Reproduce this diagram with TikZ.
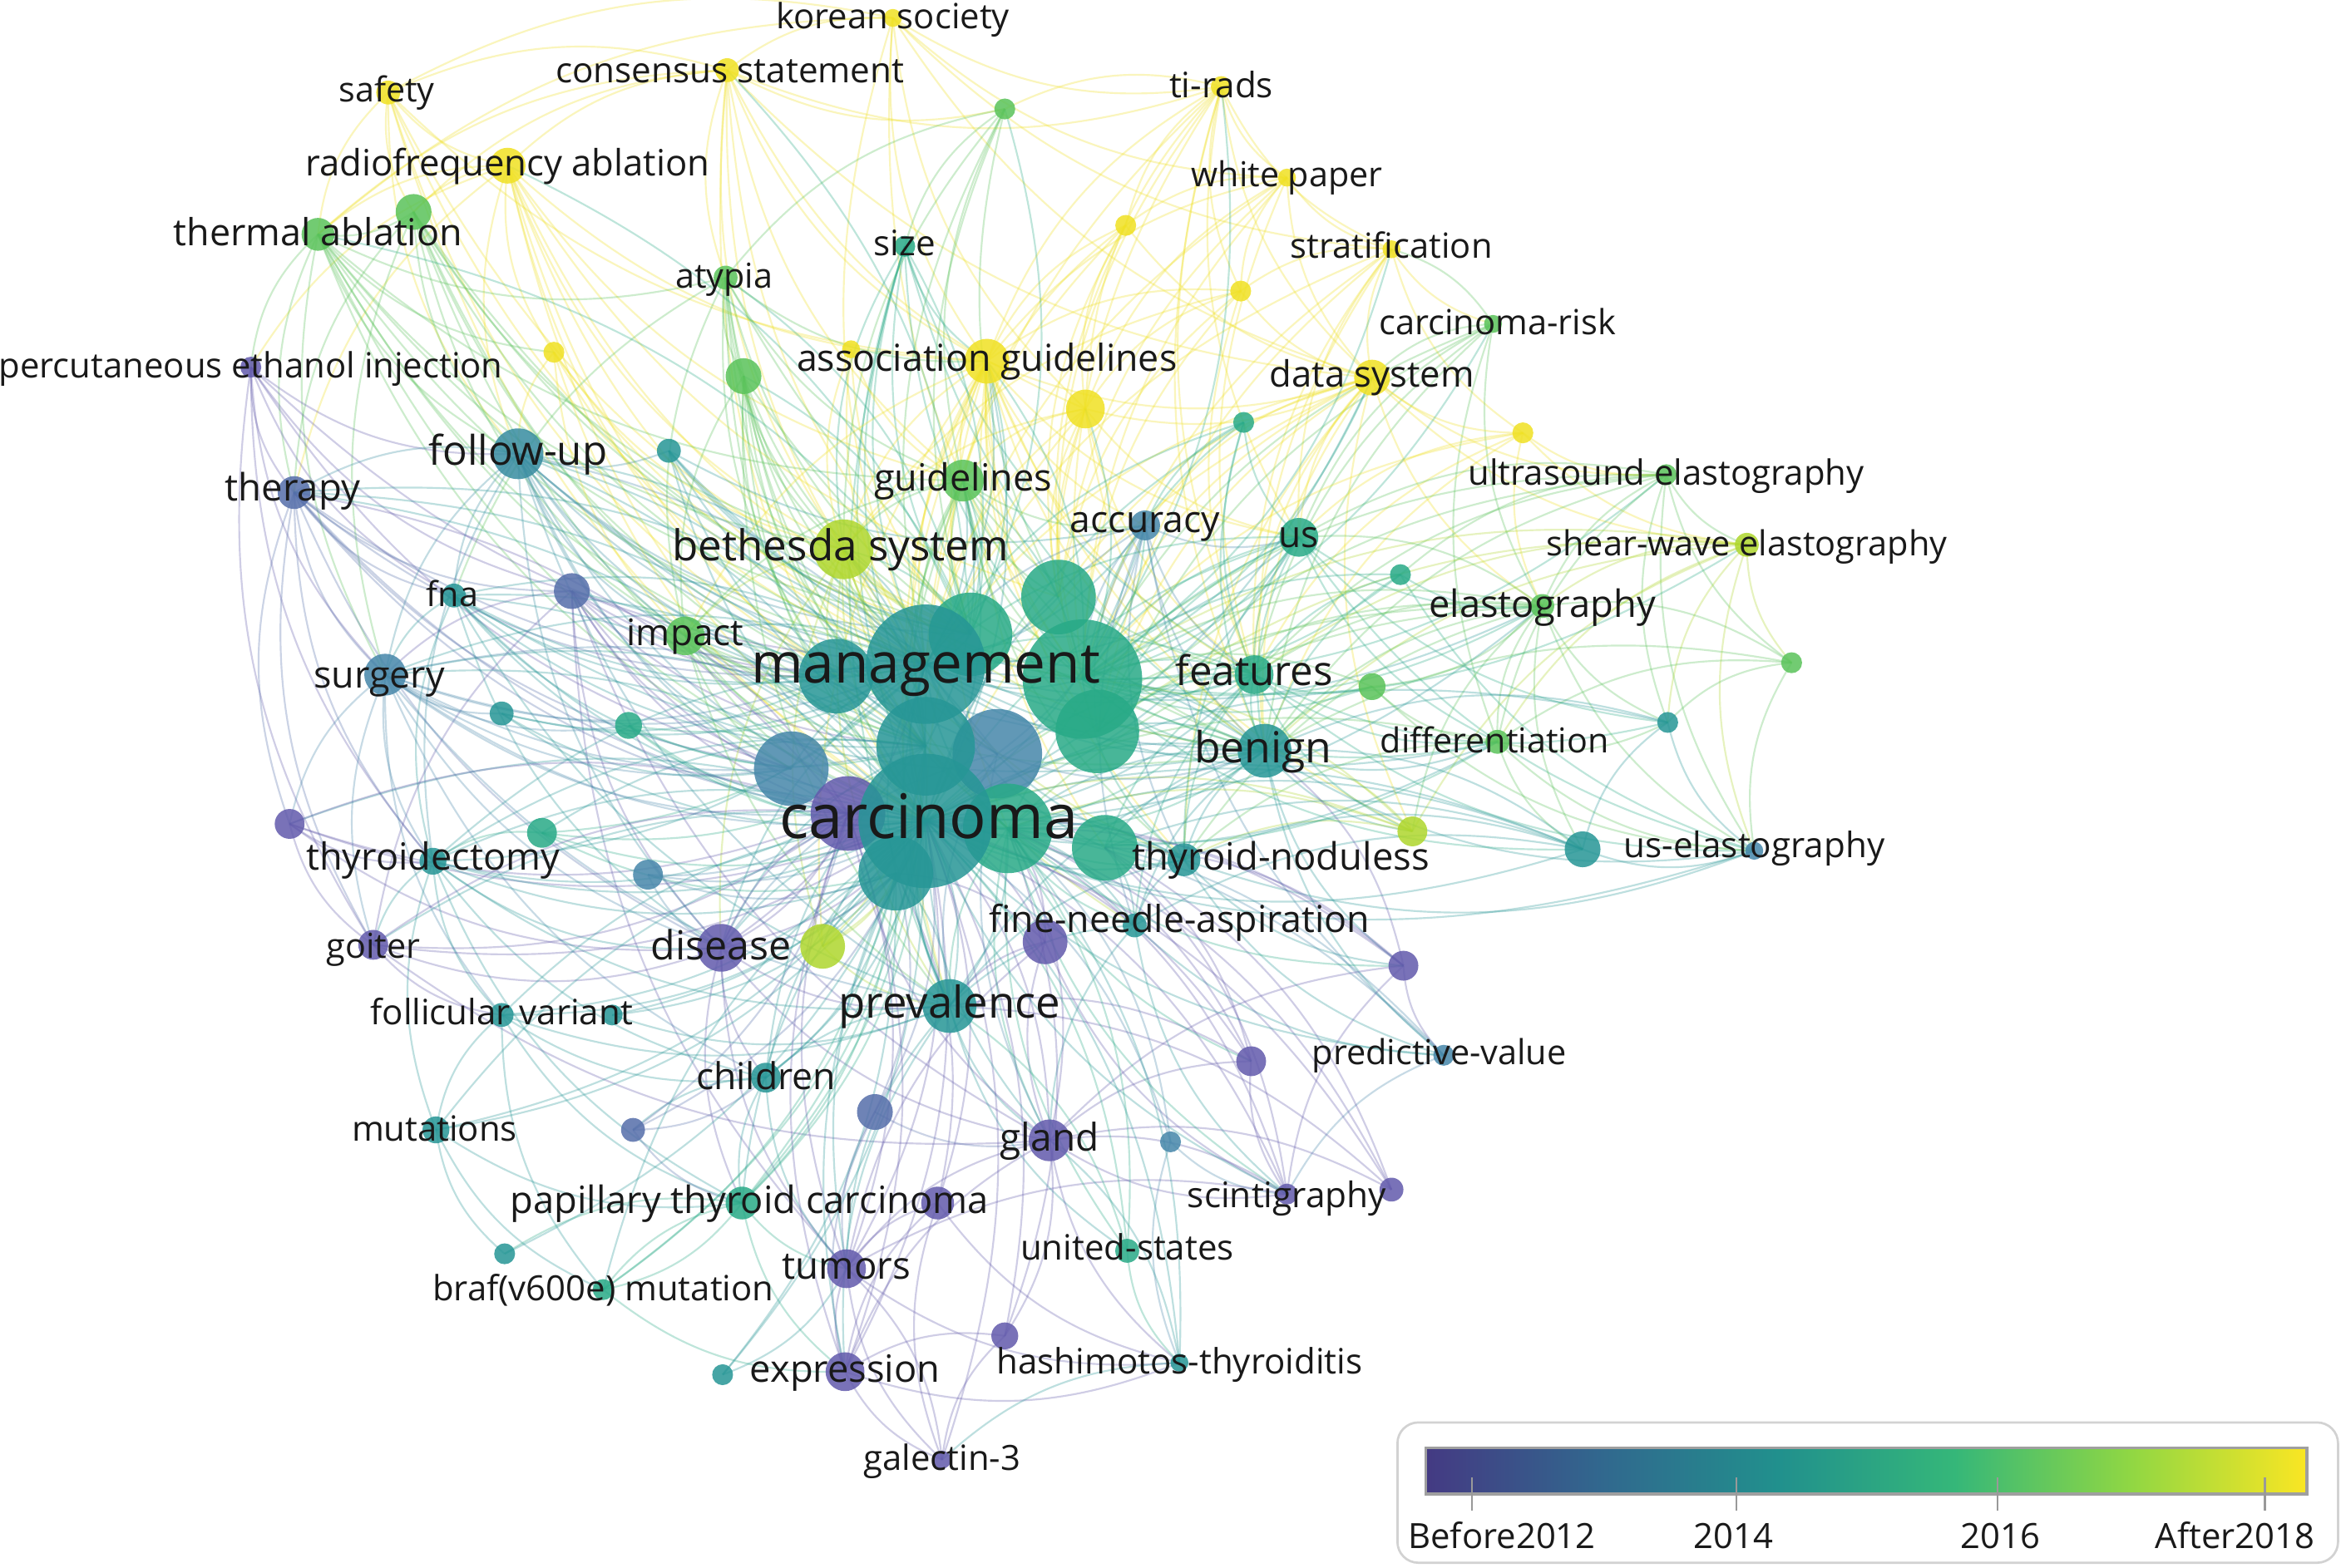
\documentclass[tikz,border=0pt]{standalone}
\usepackage{fontspec}
\setmainfont{Open Sans}
\usetikzlibrary{shapes.geometric}
\pgfdeclarelayer{bg}\pgfdeclarelayer{fg}\pgfsetlayers{bg,main,fg}
\definecolor{pu}{RGB}{98,90,172}
\definecolor{pb}{RGB}{85,110,170}
\definecolor{bl}{RGB}{70,135,170}
\definecolor{tb}{RGB}{55,140,160}
\definecolor{tl}{RGB}{38,150,150}
\definecolor{tg}{RGB}{40,170,135}
\definecolor{gr}{RGB}{90,195,90}
\definecolor{lg}{RGB}{175,215,45}
\definecolor{ye}{RGB}{240,225,35}
\definecolor{v0}{RGB}{68,58,131}
\definecolor{v1}{RGB}{49,104,142}
\definecolor{v2}{RGB}{33,144,141}
\definecolor{v3}{RGB}{53,183,121}
\definecolor{v4}{RGB}{144,215,67}
\definecolor{v5}{RGB}{250,230,35}
\pgfdeclarehorizontalshading{viridis}{100bp}{color(0bp)=(v0); color(25bp)=(v0); color(35bp)=(v1); color(45bp)=(v2); color(55bp)=(v3); color(65bp)=(v4); color(75bp)=(v5); color(100bp)=(v5)}
\tikzset{
  kw/.style={circle,inner sep=0pt,draw=none,fill opacity=0.85},
  lbl/.style={inner sep=0pt,text=black!90},
  edge/.style={line width=1.2pt,draw opacity=0.3},
}
\newcommand\nd[5]{\node[kw,minimum size={2*#4pt},fill=#5] (#1) at (#2,#3) {};}
\newcommand\lab[5]{\node[lbl,font=\fontsize{#4pt}{#4pt}\selectfont,anchor=base] (#1L) at (#2,{#3+0.31*#4}) {#5};}
\newcommand\edg[3]{\foreach \tgt in {#3}{\draw[edge,draw=#2] (#1.center) to[bend right=20] (\tgt.center);}}
\begin{document}
\begin{tikzpicture}[x=1pt,y=-1pt]
\begin{pgfonlayer}{bg}
\fill[white] (0,0) rectangle (1568,1050);
\end{pgfonlayer}
\useasboundingbox (0,0) rectangle (1568,1050);
% peripheral nodes
\nd{ks}{598}{12}{6}{ye}
\nd{cs}{487}{47}{8}{ye}
\nd{saf}{260}{62}{8}{ye}
\nd{rfa}{340}{111}{12}{ye}
\nd{tir}{818}{58}{7}{ye}
\nd{wp}{862}{119}{6}{ye}
\nd{gA}{673}{73}{7}{gr}
\nd{yA}{754}{151}{7}{ye}
\nd{yB}{831}{195}{7}{ye}
\nd{str}{932}{167}{6}{ye}
\nd{th}{213}{157}{11}{gr}
\nd{gB}{277}{142}{12}{gr}
\nd{sz}{606}{165}{7}{tg}
\nd{aty}{486}{186}{8}{gr}
\nd{cr}{1000}{217}{6}{gr}
\nd{pei}{168}{246}{7}{pu}
\nd{yC}{371}{236}{7}{ye}
\nd{gC}{498}{252}{12}{gr}
\nd{yD}{570}{234}{6}{ye}
\nd{asg}{661}{242}{15}{ye}
\nd{yE}{727}{274}{13}{ye}
\nd{ds}{919}{253}{12}{ye}
\nd{tA}{833}{283}{7}{tg}
\nd{yF}{1020}{290}{7}{ye}
\nd{fu}{347}{304}{17}{tb}
\nd{tB}{448}{302}{8}{tl}
\nd{the}{197}{330}{11}{pb}
\nd{gl}{645}{322}{14}{gr}
\nd{ue}{1116}{318}{7}{gr}
\nd{acc}{767}{352}{10}{bl}
\nd{us}{870}{360}{13}{tg}
\nd{bs}{565}{368}{20}{lg}
\nd{sw}{1170}{365}{8}{lg}
\nd{tC}{938}{385}{7}{tg}
\nd{el}{1033}{406}{8}{gr}
\nd{fna}{304}{399}{8}{tl}
\nd{pA}{383}{396}{12}{pb}
\nd{imp}{459}{426}{13}{gr}
\nd{ft}{840}{452}{13}{tg}
\nd{gD}{919}{460}{9}{gr}
\nd{gE}{1200}{444}{7}{gr}
\nd{sur}{258}{452}{14}{bl}
\nd{tD}{336}{478}{8}{tl}
\nd{gF}{421}{486}{9}{tg}
\nd{bn}{847}{503}{18}{tl}
\nd{dif}{1003}{497}{8}{gr}
\nd{tE}{1117}{484}{7}{tl}
\nd{pB}{194}{552}{10}{pu}
\nd{gG}{363}{558}{10}{tg}
\nd{thy}{290}{577}{9}{tl}
\nd{bA}{434}{586}{10}{bl}
\nd{yG}{946}{557}{10}{lg}
\nd{tn}{793}{576}{11}{tl}
\nd{tF}{1060}{569}{12}{tl}
\nd{ue2}{1175}{570}{6}{bl}
\nd{goi}{250}{633}{10}{pu}
\nd{dis}{483}{635}{16}{pu}
\nd{yH}{551}{634}{15}{lg}
\nd{pC}{700}{631}{15}{pu}
\nd{fn2}{760}{620}{8}{tl}
\nd{pD}{940}{647}{10}{pu}
\nd{fv}{336}{680}{8}{tl}
\nd{tG}{410}{680}{7}{tl}
\nd{pv}{636}{674}{18}{tl}
\nd{pE}{838}{711}{10}{pu}
\nd{pdv}{967}{707}{7}{bl}
\nd{ch}{513}{722}{10}{tl}
\nd{mu}{292}{757}{9}{tl}
\nd{pF}{424}{757}{8}{pb}
\nd{pG}{586}{745}{12}{pb}
\nd{gla}{703}{764}{14}{pu}
\nd{bB}{784}{765}{7}{bl}
\nd{ptc}{497}{806}{11}{tg}
\nd{pH}{628}{806}{11}{pu}
\nd{sci}{862}{800}{7}{pu}
\nd{pI}{932}{797}{8}{pu}
\nd{tH}{338}{840}{7}{tl}
\nd{brf}{404}{864}{7}{tg}
\nd{tum}{567}{850}{13}{pu}
\nd{uss}{755}{838}{8}{tg}
\nd{exp}{566}{919}{13}{pu}
\nd{tI}{484}{921}{7}{tl}
\nd{hsh}{790}{913}{6}{tl}
\nd{pJ}{673}{895}{9}{pu}
\nd{gal}{631}{978}{6}{pu}
% central cluster
\nd{c1}{709}{400}{25}{tg}
\nd{c2}{650}{425}{28}{tg}
\nd{c4}{560}{453}{25}{tl}
\nd{mg}{620}{445}{40}{tl}
\nd{c3}{725}{455}{40}{tg}
\nd{c5}{735}{490}{28}{tg}
\nd{c8}{530}{515}{25}{bl}
\nd{c7}{668}{505}{30}{bl}
\nd{c6}{620}{500}{33}{tl}
\nd{c9}{568}{545}{25}{pu}
\nd{c11}{740}{568}{22}{tg}
\nd{c10}{675}{555}{30}{tg}
\nd{ca}{620}{550}{45}{tl}
\nd{c12}{600}{585}{25}{tl}
% edges
\begin{pgfonlayer}{bg}
\edg{ks}{ye}{cs,tir,saf,asg,ds,wp,mg,c3,th,str,yE}
\edg{cs}{ye}{saf,rfa,th,gA,asg,mg,ca,c2,tir,aty,bs,gl,yE,gB,ds}
\edg{saf}{ye}{rfa,th,gB,mg,ca,fu,asg,c2,c4}
\edg{rfa}{ye}{th,gB,fu,mg,ca,c4,c6,bs,asg,yC,pei,the,c2,gl,c1}
\edg{tir}{ye}{wp,str,ds,yA,yB,asg,yE,mg,c3,c1,us,bn,ft,gA}
\edg{wp}{ye}{str,ds,yA,yB,asg,yE,c1,c3,ft,mg}
\edg{str}{ye}{ds,yB,cr,yF,c3,c5,bn,ft,us,mg}
\edg{yA}{ye}{asg,yE,ds,c1,c3,mg,gl}
\edg{yB}{ye}{ds,yE,asg,c1,c3,ft,bs}
\edg{gA}{gr}{aty,c1,c2,bs,sz,mg,gl}
\edg{th}{gr}{gB,pei,the,fu,mg,ca,c4,c8,c6,sur,bs,gl,yC,aty,c2}
\edg{gB}{gr}{fu,mg,ca,c2,c4,c6,bs,sur,the,c3,imp}
\edg{sz}{tg}{mg,ca,c2,c3,c6,asg,bn,pv,bs,ft}
\edg{aty}{gr}{bs,mg,ca,c2,c4,c6,gC,gl,asg,imp,fna,c10,bn}
\edg{cr}{gr}{ds,us,el,c3,c5,bn,ft,dif,str}
\edg{pei}{pu}{the,fu,sur,fna,pA,mg,goi,thy,c8}
\edg{yC}{ye}{fu,bs,mg,ca,c2,imp}
\edg{gC}{gr}{bs,mg,ca,c2,c4,c6,imp,c10,bn,pv}
\edg{yD}{ye}{bs,c2,mg,gl}
\edg{asg}{ye}{gl,bs,mg,ca,c1,c2,c3,c5,c6,c10,bn,ft,ds,acc,us,pv,imp,tn,c11,yG,yH}
\edg{yE}{ye}{c1,c3,mg,ca,bs,bn,ft,c5,us,ds,gl}
\edg{ds}{ye}{c1,c3,c5,mg,ca,bn,ft,us,yF,acc,yG,el,tn,ue,sw}
\edg{tA}{tg}{c3,mg,ca,bn,us,acc,ft}
\edg{yF}{ye}{ue,sw,el,c3,bn,ft,us}
\edg{fu}{tb}{the,sur,fna,thy,mg,ca,c4,c6,c8,c2,tB,c9,dis,pv,bn,imp,c3}
\edg{tB}{tl}{mg,ca,c2,c3,c6,bn,acc}
\edg{the}{pb}{sur,fna,thy,pB,goi,mg,ca,c4,c8,c9,dis,pA}
\edg{gl}{gr}{mg,ca,c1,c2,c3,c5,c6,bn,ft,pv,bs,imp,tn,acc}
\edg{ue}{gr}{sw,el,gE,ue2,tE,c3,bn,ft,us,tC,dif,c5}
\edg{acc}{bl}{mg,ca,c3,c5,bn,ft,us,fn2,tn,pdv}
\edg{us}{tg}{c3,c5,c10,ca,mg,bn,ft,el,dif,ue2,tE,tn}
\edg{bs}{lg}{mg,ca,c2,c4,c6,c7,c10,bn,pv,fn2,dis,imp,yH,tn,c3}
\edg{sw}{lg}{el,gE,ue2,tE,dif,bn,ft,c3,c5,yG}
\edg{tC}{tg}{c3,bn,ft,el,ue2}
\edg{el}{gr}{ue2,tE,dif,bn,ft,c3,c5,c10,ca,us,tn,yG,tF}
\edg{fna}{tl}{sur,thy,mg,ca,c4,c6,c8,c9,dis,pv,bn}
\edg{pA}{pu}{mg,ca,c4,c6,c8,c9,dis,tum,gla,sur,goi}
\edg{imp}{gr}{mg,ca,c4,c6,c8,c10,bn,pv}
\edg{ft}{tg}{c3,c5,bn,ca,mg,tn,dif,gD,ue2,tE,fn2,yG,c11}
\edg{gD}{gr}{c3,bn,dif,ue2,el}
\edg{gE}{gr}{ue2,tE,el,dif,bn}
\edg{sur}{bl}{thy,goi,pB,tD,gF,mg,ca,c4,c6,c8,c9,dis,pv,fv,ch}
\edg{tD}{tl}{ca,mg,c4,c8}
\edg{gF}{tg}{ca,mg,c6,c10}
\edg{bn}{tl}{c3,c5,ca,mg,c10,c11,tn,dif,ue2,fn2,pv,pdv,pD,yG}
\edg{dif}{gr}{ue2,tE,tF,tn,ca}
\edg{tE}{tl}{ue2,tF,bn,ca}
\edg{pB}{pu}{thy,goi,ca,c9,dis}
\edg{gG}{tg}{ca,c6,c12,thy,mg}
\edg{thy}{tl}{goi,fv,mu,ca,mg,c9,c12,dis,pv,ch,ptc}
\edg{bA}{bl}{ca,c9,c12,dis}
\edg{yG}{lg}{bn,tn,c3,c10,ca}
\edg{tn}{tl}{ca,c10,c11,pv,fn2,pdv,pD,ue2}
\edg{tF}{tl}{ue2,tn,ca,bn,c11,c10,fn2}
\edg{goi}{pu}{dis,ca,c9,fv,gla}
\edg{dis}{pu}{ca,c9,c12,pv,ch,gla,tum,ptc,mg}
\edg{yH}{lg}{ca,c12,pv,c6}
\edg{pC}{pu}{ca,c10,c12,pv,gla,tum,sci}
\edg{fn2}{tl}{ca,c10,c11,pv,pdv,sci,gla}
\edg{pD}{pu}{ca,c10,c11,bn,sci,pdv,gla}
\edg{fv}{tl}{ca,c12,mu,ptc,ch,pv,brf}
\edg{tG}{tl}{ca,c12,pv}
\edg{pv}{tl}{ca,c12,c10,ch,gla,tum,exp,uss}
\edg{pE}{pu}{ca,c10,c11,gla,sci,pv}
\edg{pdv}{bl}{ca,c10,sci}
\edg{ch}{tl}{ca,c12,ptc,pF,tum}
\edg{mu}{tl}{ca,c12,brf,ptc,tH}
\edg{pF}{pb}{ca,c9,ch,ptc}
\edg{pG}{pb}{ca,c12,tum,exp,gla}
\edg{gla}{pu}{ca,c10,tum,hsh,sci,exp}
\edg{bB}{bl}{ca,c10,sci,hsh}
\edg{ptc}{tg}{ca,c12,brf,tH,exp,tum,mg,c6}
\edg{pH}{pu}{ca,c12,tum,exp,gal,hsh}
\edg{sci}{pu}{ca,c10,gla,tum,c11}
\edg{pI}{pu}{ca,c10,c11,gla,pv}
\edg{tH}{tl}{ca}
\edg{brf}{tg}{ca,c12,ptc,exp}
\edg{tum}{pu}{ca,exp,gal,hsh,c9}
\edg{uss}{tg}{ca,c10,pv,hsh}
\edg{exp}{pu}{ca,gal,hsh,c9}
\edg{tI}{tl}{ca,c12,tum}
\edg{hsh}{tl}{ca,gla,gal,c10}
\edg{pJ}{pu}{ca,gla,gal,exp,c10}
\edg{gal}{pu}{ca,tum}
\edg{mg}{tl}{ca,c1,c2,c3,c4,c5,c6,c7,c8,c10,c11,c12,fu,sur,fna,imp,bs,gl,asg,acc,us,ft,bn,el,dif,tn,pv,dis,thy,the}
\edg{ca}{tl}{fu,the,sur,thy,goi,pB,fv,mu,ch,ptc,brf,tum,exp,gla,sci,pdv,tn,bn,ft,us,acc,gl,bs,asg,ds,el,dif,tF,ue2,imp,fna,pA,dis,pv,yH}
\edg{c3}{tg}{us,ft,bn,el,dif,ue,sw,tF,tn,acc,gl,asg,ds,yE,tir,str,cr,gD,tC}
\edg{c6}{tl}{fu,the,sur,fna,imp,bs,gl,dis,pv,ch,thy,gG}
\edg{c10}{tg}{bn,tn,gla,pv,fn2,pD,pE,sci,uss,ft,dif}
\edg{c2}{tg}{bs,gl,asg,aty,gC,sz,gA,cs,rfa,th}
\edg{c7}{bl}{fu,sur,acc,bn,pv,gla,dis}
\edg{c9}{pu}{the,pA,goi,dis,tum,gla,exp,pB}
\end{pgfonlayer}
% labels
\begin{pgfonlayer}{fg}
\lab{ks}{598}{12}{23.3}{korean society}
\lab{cs}{489}{48}{23.5}{consensus statement}
\lab{saf}{259}{61}{23}{safety}
\lab{rfa}{340}{110}{24.3}{radiofrequency ablation}
\lab{tir}{818}{58}{23.5}{ti-rads}
\lab{wp}{862}{118}{23}{white paper}
\lab{str}{932}{166}{23.2}{stratification}
\lab{th}{213}{157}{25}{thermal ablation}
\lab{sz}{606}{164}{23.5}{size}
\lab{aty}{485}{186}{23}{atypia}
\lab{cr}{1003}{217}{23.2}{carcinoma-risk}
\lab{pei}{168}{246}{23.3}{percutaneous ethanol injection}
\lab{asg}{661}{241}{24.9}{association guidelines}
\lab{ds}{919}{252}{24.3}{data system}
\lab{fu}{347}{303}{27.4}{follow-up}
\lab{the}{196}{328}{25.3}{therapy}
\lab{gl}{645}{321}{25.1}{guidelines}
\lab{ue}{1116}{318}{23.3}{ultrasound elastography}
\lab{acc}{767}{349}{24.8}{accuracy}
\lab{us}{870}{359}{24.7}{us}
\lab{bs}{563}{367}{28.5}{bethesda system}
\lab{sw}{1170}{365}{23.1}{shear-wave elastography}
\lab{el}{1033}{406}{25.2}{elastography}
\lab{fna}{303}{399}{23}{fna}
\lab{imp}{459}{425}{24.6}{impact}
\lab{mg}{620}{446}{37.6}{management}
\lab{ft}{840}{451}{27.4}{features}
\lab{sur}{254}{453}{25}{surgery}
\lab{bn}{846}{502}{28.8}{benign}
\lab{dif}{1001}{497}{23}{differentiation}
\lab{ca}{622}{549}{41.2}{carcinoma}
\lab{thy}{290}{575}{25.1}{thyroidectomy}
\lab{tn}{858}{575}{25.3}{thyroid-noduless}
\lab{ue2}{1175}{567}{23.5}{us-elastography}
\lab{goi}{250}{635}{23}{goiter}
\lab{dis}{483}{635}{26.9}{disease}
\lab{fn2}{790}{617}{24.9}{fine-needle-aspiration}
\lab{fv}{336}{679}{23.4}{follicular variant}
\lab{pv}{636}{673}{29.4}{prevalence}
\lab{pdv}{964}{706}{23.1}{predictive-value}
\lab{ch}{513}{722}{24.8}{children}
\lab{mu}{291}{757}{23.3}{mutations}
\lab{gla}{703}{763}{25.6}{gland}
\lab{ptc}{502}{805}{25.2}{papillary thyroid carcinoma}
\lab{sci}{862}{802}{23.6}{scintigraphy}
\lab{brf}{404}{864}{23.3}{braf(v600e) mutation}
\lab{tum}{567}{849}{25.4}{tumors}
\lab{uss}{755}{837}{23.4}{united-states}
\lab{exp}{566}{918}{25.2}{expression}
\lab{hsh}{790}{913}{23.4}{hashimotos-thyroiditis}
\lab{gal}{631}{978}{23.3}{galectin-3}
% legend
\draw[gray!35,line width=1.5pt,rounded corners=14pt] (936,953) rectangle (1566,1047);
\node[draw=gray!75,line width=2pt,shading=viridis,minimum width=590pt,minimum height=31pt,inner sep=0pt] (bar) at (1250,985.5) {};
\foreach \xx in {986,1163,1338,1517}{\draw[gray!80,line width=1.2pt] (\xx,990) -- (\xx,1012);}
\lab{lgA}{1006}{1030}{23.3}{Before2012}
\lab{lgB}{1161}{1030}{23.3}{2014}
\lab{lgC}{1340}{1030}{23.3}{2016}
\lab{lgD}{1497}{1030}{23.3}{After2018}
\end{pgfonlayer}
\end{tikzpicture}
\end{document}
